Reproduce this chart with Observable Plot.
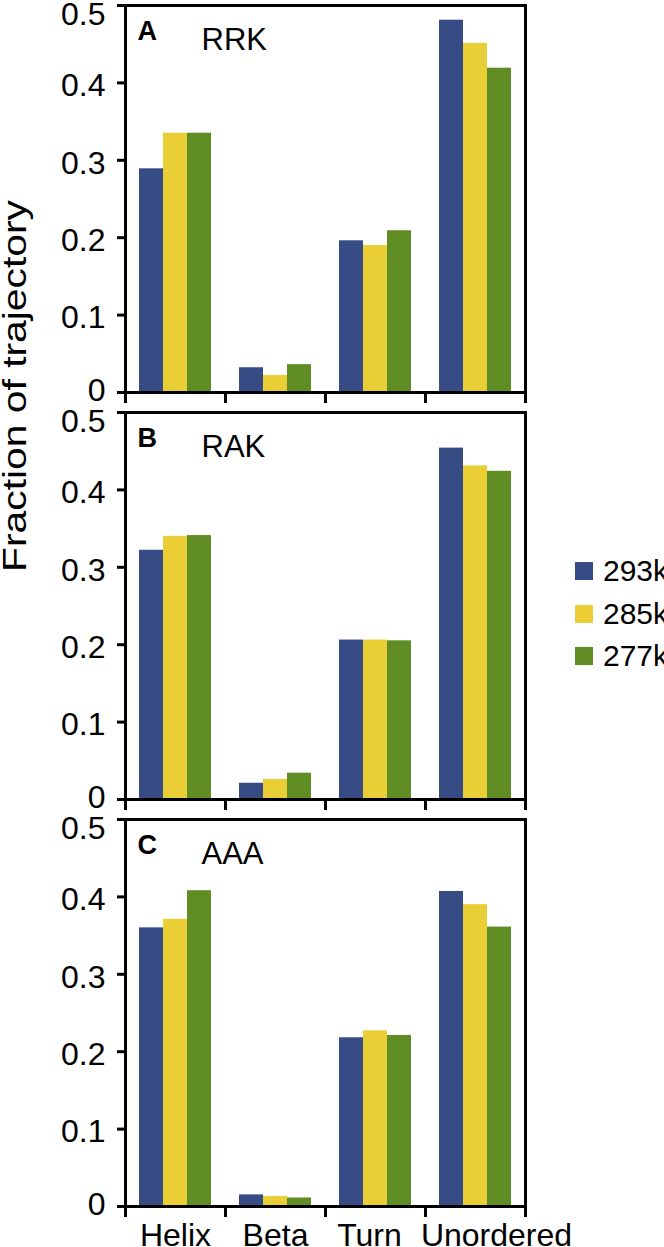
<!DOCTYPE html>
<html>
<head>
<meta charset="utf-8">
<script src="https://cdn.jsdelivr.net/npm/d3@7"></script>
<script src="https://cdn.jsdelivr.net/npm/@observablehq/plot@0.6"></script>
<style>
  html, body { margin: 0; padding: 0; background: #fff; }
  #wrap { position: relative; width: 664px; height: 1247px; overflow: hidden;
          font-family: "Liberation Sans", Arial, sans-serif; color: #000; }
  #ylabel { position: absolute; left: 14px; top: 386px; white-space: nowrap;
            font-size: 34px; line-height: 1;
            transform: translate(-50%, -50%) rotate(-90deg) scaleX(1.2); }
  #legend { position: absolute; left: 575px; top: 550px; }
  .row { display: flex; align-items: center; height: 42.5px; font-size: 30px; white-space: nowrap; }
  .sw { width: 18px; height: 18px; margin-right: 10px; flex: none; }
</style>
</head>
<body>
<div id="wrap"></div>
<script>
// ---- data ----
const categories = ["Helix", "Beta", "Turn", "Unordered"];
const temps = ["293k", "285k", "277k"];
const colors = ["#374B84", "#E9CF35", "#5F8C23"];
const panels = ["A", "B", "C"];
const peptides = ["RRK", "RAK", "AAA"];
const yTicks = [0, 0.1, 0.2, 0.3, 0.4, 0.5];
const yLabel = "Fraction of trajectory";

// values per category (Helix, Beta, Turn, Unordered)
const rrk293 = [0.289, 0.032, 0.196, 0.481];
const rrk285 = [0.335, 0.022, 0.190, 0.451];
const rrk277 = [0.335, 0.036, 0.209, 0.419];
const rak293 = [0.322, 0.021, 0.206, 0.454];
const rak285 = [0.340, 0.026, 0.206, 0.431];
const rak277 = [0.341, 0.034, 0.205, 0.424];
const aaa293 = [0.360, 0.015, 0.218, 0.407];
const aaa285 = [0.371, 0.013, 0.227, 0.390];
const aaa277 = [0.408, 0.011, 0.221, 0.361];

const series = [
  [rrk293, rrk285, rrk277],
  [rak293, rak285, rak277],
  [aaa293, aaa285, aaa277]
];

const rows = [];
panels.forEach((p, pi) => {
  temps.forEach((t, ti) => {
    categories.forEach((c, ci) => {
      rows.push({panel: p, cat: c, temp: t, value: series[pi][ti][ci]});
    });
  });
});
const panelRows = panels.map((p, i) => ({panel: p, name: peptides[i]}));

// ---- layout ----
const W = 664, H = 1247;
const mT = 4, mB = 41, mL = 123, mR = 138;
const fyPad = 0.05;
const innerH = H - mT - mB;
const cellH = innerH / (panels.length - fyPad) * (1 - fyPad);
const lineW = 3;
const axisText = {anchor: "left", tickSize: 0, tickPadding: 20, fontSize: 32, label: null, tickFormat: d => String(d)};

const plot = Plot.plot({
  width: W,
  height: H,
  marginTop: mT,
  marginBottom: mB,
  marginLeft: mL,
  marginRight: mR,
  style: {fontFamily: "Liberation Sans, Arial, sans-serif", fontSize: "32px", color: "#000", background: "transparent"},
  fx: {domain: categories, paddingInner: 0, paddingOuter: 0, label: null, axis: null},
  fy: {domain: panels, paddingInner: fyPad, paddingOuter: 0, label: null, axis: null},
  x: {domain: temps, paddingInner: 0, paddingOuter: 0.52, axis: null},
  y: {domain: [0, 0.5], axis: null},
  color: {domain: temps, range: colors},
  marks: [
    Plot.barY(rows, {fx: "cat", fy: "panel", x: "temp", y: "value", fill: "temp"}),
    Plot.frame({anchor: "top", stroke: "#000", strokeWidth: lineW, strokeLinecap: "square"}),
    Plot.frame({anchor: "bottom", stroke: "#000", strokeWidth: lineW, strokeLinecap: "square"}),
    Plot.frame({anchor: "left", facetAnchor: "left", stroke: "#000", strokeWidth: lineW, strokeLinecap: "square"}),
    Plot.frame({anchor: "right", facetAnchor: "right", stroke: "#000", strokeWidth: lineW, strokeLinecap: "square"}),
    Plot.frame({anchor: "left", insetTop: cellH, insetBottom: -9, stroke: "#000", strokeWidth: lineW}),
    Plot.frame({anchor: "right", facetAnchor: "right", insetTop: cellH, insetBottom: -9, stroke: "#000", strokeWidth: lineW}),
    // y tick lines
    Plot.axisY({anchor: "left", ticks: yTicks, text: null, tickSize: 8, strokeWidth: lineW, label: null}),
    // y tick labels
    Plot.axisY({...axisText, ticks: yTicks.slice(1, 5), dy: 3}),
    Plot.axisY({...axisText, ticks: yTicks.slice(5), dy: 9}),
    Plot.axisY({...axisText, ticks: yTicks.slice(0, 1), dy: -2}),
    // category labels
    Plot.axisFx({anchor: "bottom", ticks: categories.slice(0, 2), tickSize: 0, tickPadding: 17, fontSize: 32, label: null}),
    Plot.axisFx({anchor: "bottom", ticks: categories.slice(2, 3), tickSize: 0, tickPadding: 17, fontSize: 32, label: null, dx: -6}),
    Plot.axisFx({anchor: "bottom", ticks: categories.slice(3), tickSize: 0, tickPadding: 17, fontSize: 32, label: null, dx: 21}),
    // panel letters and peptide names
    Plot.text(panelRows, {fy: "panel", fx: () => categories[0], text: "panel", frameAnchor: "top-left",
                          textAnchor: "start", lineAnchor: "top", dx: 12, dy: 15, fontSize: 27, fontWeight: "bold"}),
    Plot.text(panelRows, {fy: "panel", fx: () => categories[0], text: "name", frameAnchor: "top-left",
                          textAnchor: "start", lineAnchor: "top", dx: 76, dy: 22, fontSize: 31})
  ]
});

const wrap = document.getElementById("wrap");
wrap.appendChild(plot);

const yl = document.createElement("div");
yl.id = "ylabel";
yl.textContent = yLabel;
wrap.appendChild(yl);

const lg = document.createElement("div");
lg.id = "legend";
temps.forEach((t, i) => {
  const r = document.createElement("div");
  r.className = "row";
  const s = document.createElement("span");
  s.className = "sw";
  s.style.background = colors[i];
  const l = document.createElement("span");
  l.textContent = t;
  r.appendChild(s);
  r.appendChild(l);
  lg.appendChild(r);
});
wrap.appendChild(lg);
</script>
</body>
</html>
